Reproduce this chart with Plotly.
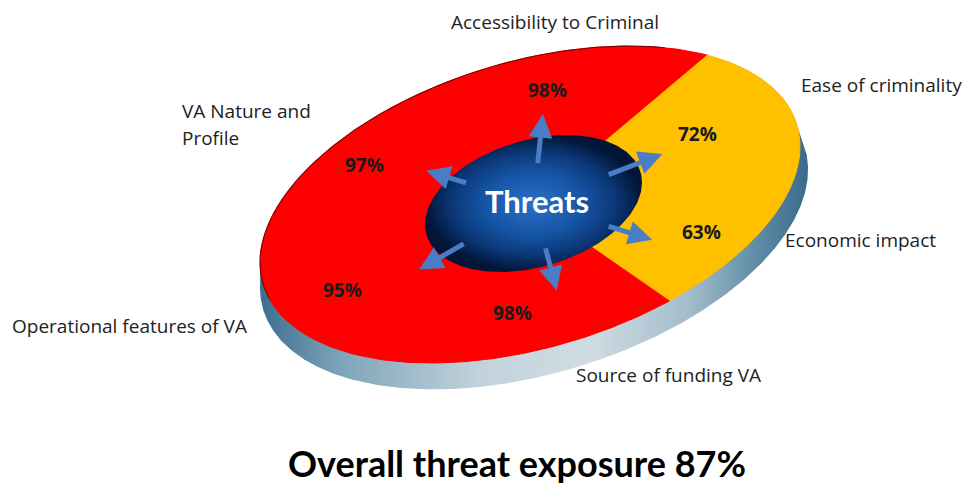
import numpy as np
import plotly.graph_objects as go

# ---- data -------------------------------------------------------------
categories = ["Accessibility to Criminal", "Ease of criminality", "Economic impact",
              "Source of funding VA", "Operational features of VA", "VA Nature and Profile"]
exposure = [98, 72, 63, 98, 95, 97]          # percent exposure per threat factor
hub_label = "Threats"
title_prefix = "Overall threat exposure"

# ---- styling ------------------------------------------------------------
W, H = 966, 487
RED, AMBER = "#FF0000", "#FFC000"
HIGH_RISK = 80                                 # values at or above this are red
ARROW_COL = "#4a7dc6"
LABEL_FONT = "Open Sans"
HEAD_FONT = "Lato"

# tilted disc (pixel space): x = CX + RX cos t ; y = CY + SK cos t + RY sin t
CX, CY, RX, SK, RY = 530, 204.5, 270, -58, 147.5
# central hub ellipse
HX, HY, HRX, HSK, HRY = 533.5, 203.5, 108.5, -21, 65.2


def disc(t_deg, r=1.0, dx=0.0, dy=0.0, s=1.0):
    t = np.radians(t_deg)
    x = CX + dx + s * r * RX * np.cos(t)
    y = CY + dy + s * r * (SK * np.cos(t) + RY * np.sin(t))
    return x, y


def warp(phi):
    """Slight perspective foreshortening of sector angles on the tilted disc."""
    return phi - 7 * np.sin(np.radians(2 * (phi - 5)))


def hull(px, py):
    pts = sorted(set(zip(np.round(px, 3), np.round(py, 3))))

    def cross(o, a, b):
        return (a[0] - o[0]) * (b[1] - o[1]) - (a[1] - o[1]) * (b[0] - o[0])

    lower, upper = [], []
    for p in pts:
        while len(lower) >= 2 and cross(lower[-2], lower[-1], p) <= 0:
            lower.pop()
        lower.append(p)
    for p in reversed(pts):
        while len(upper) >= 2 and cross(upper[-2], upper[-1], p) <= 0:
            upper.pop()
        upper.append(p)
    h = lower[:-1] + upper[:-1]
    h.append(h[0])
    return [p[0] for p in h], [p[1] for p in h]


fig = go.Figure()

# ---- disc thickness (side wall) -----------------------------------------
tt = np.linspace(0, 360, 721)
x_top, y_top = disc(tt)
x_bot, y_bot = disc(tt, dx=4, dy=24, s=1.015)
hx, hy = hull(np.concatenate([x_top, x_bot]), np.concatenate([y_top, y_bot]))
fig.add_trace(go.Scatter(
    x=hx, y=hy, mode="lines", line=dict(width=0), fill="toself",
    fillgradient=dict(type="horizontal", start=258, stop=812,
                      colorscale=[[0.0, "#3b6d8e"], [0.15, "#7fa4b9"], [0.40, "#c2d3dc"],
                                  [0.60, "#cfdce3"], [0.78, "#a3bccb"], [0.90, "#5f8ca6"],
                                  [1.0, "#36688a"]]),
    hoverinfo="skip"))

# ---- top face sectors ----------------------------------------------------
n = len(exposure)
step = 360 / n
start = -90 - step / 2 + 5
bounds = [start + step * k for k in range(n + 1)]
mids = []
for k, v in enumerate(exposure):
    a0, a1 = warp(bounds[k]), warp(bounds[k + 1])
    mids.append((a0 + a1) / 2)
    ts = np.linspace(a0, a1, 80)
    xs, ys = disc(ts)
    col = RED if v >= HIGH_RISK else AMBER
    fig.add_trace(go.Scatter(
        x=np.concatenate([[CX], xs, [CX]]), y=np.concatenate([[CY], ys, [CY]]),
        mode="lines", line=dict(width=1, color=col), fill="toself", fillcolor=col,
        hoverinfo="skip"))

# thin dark rim along the far edge of the face
te = np.linspace(165, 300, 120)
ex, ey = disc(te)
fig.add_trace(go.Scatter(x=ex, y=ey, mode="lines",
                         line=dict(color="rgba(70,0,0,0.65)", width=1.2), hoverinfo="skip"))

# ---- central hub ---------------------------------------------------------
th = np.radians(np.linspace(0, 360, 241))
hub_x = HX + HRX * np.cos(th)
hub_y = HY + HSK * np.cos(th) + HRY * np.sin(th)
fig.add_trace(go.Scatter(
    x=hub_x, y=hub_y, mode="lines", line=dict(width=0), fill="toself",
    fillgradient=dict(type="radial",
                      colorscale=[[0.0, "#2a70c8"], [0.45, "#1655a6"], [0.75, "#0b3878"],
                                  [1.0, "#031638"]]),
    hoverinfo="skip"))

annotations = []

# arrows radiating from the hub, one per threat factor
arrow_dir = [-84, -21, 17, 75, 150, -163]
arrow_tail = [39, 79, 77, 45, 79, 69]
arrow_tip = [90, 138, 124, 90, 132, 112]
for d, r0, r1 in zip(arrow_dir, arrow_tail, arrow_tip):
    c, s = np.cos(np.radians(d)), np.sin(np.radians(d))
    annotations.append(dict(
        x=HX + r1 * c, y=HY + r1 * s, ax=HX + r0 * c, ay=HY + r0 * s,
        xref="x", yref="y", axref="x", ayref="y", text="", showarrow=True,
        arrowhead=2, arrowsize=0.95, arrowwidth=5, arrowcolor=ARROW_COL, standoff=0))

annotations.append(dict(x=HX + 3, y=HY - 3, xref="x", yref="y", text=f"<b>{hub_label}</b>",
                        showarrow=False, font=dict(family=HEAD_FONT, size=31, color="white")))

# percentage labels inside each sector (small nudges keep them clear of the arrows)
label_nudge = [(0, -2), (-18, 10), (2, 6), (0, -4), (-2, 5), (4, -18)]
for v, m, (nx, ny) in zip(exposure, mids, label_nudge):
    px, py = disc(m, r=0.74)
    annotations.append(dict(x=float(px) + nx, y=float(py) + ny, xref="x", yref="y",
                            text=f"<b>{v}%</b>", showarrow=False,
                            font=dict(family=LABEL_FONT, size=19, color="#1a1a1a")))

# category labels around the disc
label_pos = [(555, 22, "center"), (799, 85, "left"), (783, 240, "left"),
             (574, 375, "left"), (10, 326, "left"), (180, 111, "left")]
wrap = {"VA Nature and Profile": ["VA Nature and", "Profile"]}
for cat, (lx, ly, anc) in zip(categories, label_pos):
    for i, line in enumerate(wrap.get(cat, [cat])):
        annotations.append(dict(x=lx, y=ly + 27 * i, xref="x", yref="y", text=line,
                                showarrow=False, xanchor=anc,
                                font=dict(family=LABEL_FONT, size=19, color="#222222")))

overall = round(sum(exposure) / len(exposure))
annotations.append(dict(x=517, y=463, xref="x", yref="y",
                        text=f"<b>{title_prefix} {overall}%</b>", showarrow=False,
                        borderpad=0,
                        font=dict(family=HEAD_FONT, size=36, color="black")))

fig.update_layout(
    width=W, height=H, margin=dict(l=0, r=0, t=0, b=0),
    paper_bgcolor="white", plot_bgcolor="white", showlegend=False, hovermode=False,
    xaxis=dict(range=[0, W], visible=False, fixedrange=True),
    yaxis=dict(range=[H, 0], visible=False, fixedrange=True),
    annotations=annotations)

fig.write_html("out.html")
